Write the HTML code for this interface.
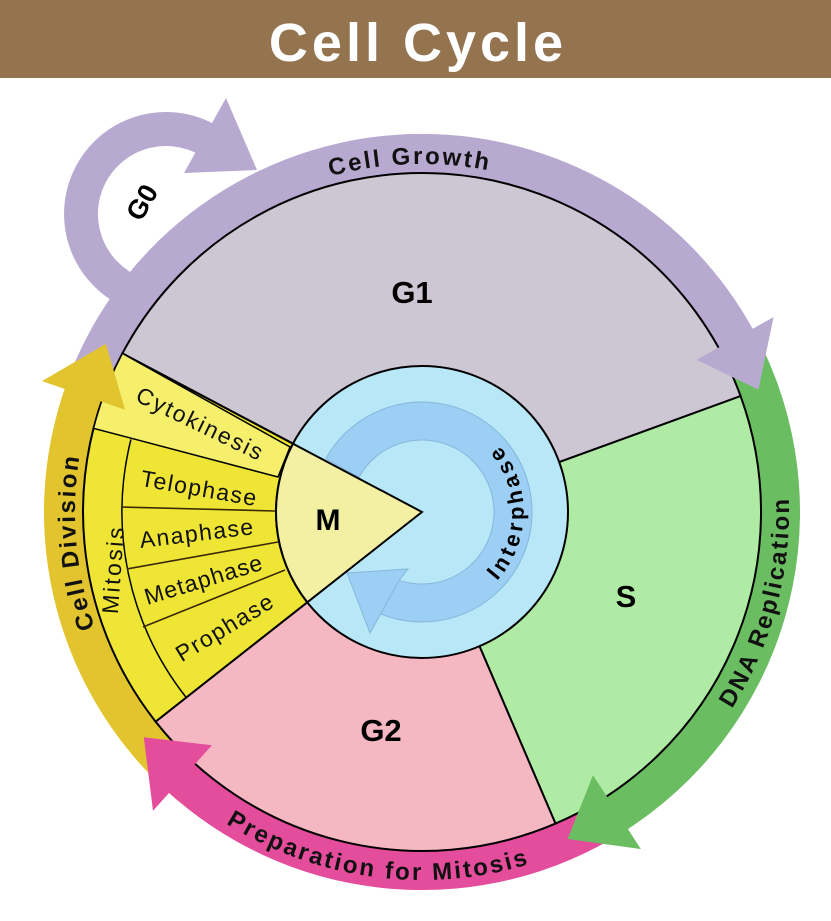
<!DOCTYPE html>
<html><head><meta charset="utf-8">
<style>
html,body{margin:0;padding:0;background:#fff;}
svg{display:block;}
text{font-family:"Liberation Sans",Arial,sans-serif;}
.ring{font-weight:bold;font-size:24px;letter-spacing:2.4px;fill:#111;}
.ph{font-size:23px;fill:#111;}
</style></head>
<body>
<svg width="831" height="921" viewBox="0 0 831 921" xmlns="http://www.w3.org/2000/svg">
<rect x="0" y="0" width="831" height="78" fill="#94734f"/>
<text x="418" y="61" text-anchor="middle" font-size="54" font-weight="bold" fill="#fff" letter-spacing="4">Cell Cycle</text>

<defs>
<path id="tpGrowth"/><path id="tpDiv"/><path id="tpDNA"/><path id="tpPrep"/><path id="tpInter"/>
</defs>

<path id="g0band" fill="#b8a9d0"/>
<path d="M226,98 L257,170 L184,173 Z" fill="#b8a9d0"/>
<path id="pband" fill="#b8a9d0"/>
<path id="yband" fill="#e2c52e"/>
<path id="gband" fill="#6abd60"/>
<path id="kband" fill="#e44c9c"/>

<path id="sG1" fill="#cdc6d3" stroke="#000" stroke-width="2"/>
<path id="sS" fill="#b0eba5" stroke="#000" stroke-width="2"/>
<path id="sG2" fill="#f5b8c3" stroke="#000" stroke-width="2"/>
<path id="sM" fill="#efe535" stroke="#000" stroke-width="2"/>
<path id="cyto" fill="#f5ef6c" stroke="#000" stroke-width="1.5"/>
<path id="mitArc" fill="none" stroke="#000" stroke-width="1.5"/>
<g stroke="#3a2a08" stroke-width="1.6">
<line x1="121" y1="507" x2="275" y2="511"/>
<line x1="127" y1="569" x2="278" y2="542"/>
<line x1="143" y1="627" x2="285" y2="570"/>
</g>

<circle cx="422" cy="512" r="146" fill="#b8e8f7" stroke="#000" stroke-width="2"/>
<path id="bband" fill="#9ccff3" stroke="#86b6dc" stroke-width="1"/>
<path d="M398,582 L408,569 L347,573 L370,633 L379,617 Z" fill="#9ccff3" stroke="#86b6dc" stroke-width="1"/>
<path id="mIn" fill="#f3f0a4" stroke="#000" stroke-width="2"/>

<path id="phead" fill="#b8a9d0"/>
<path id="ghead" fill="#6abd60"/>
<path id="khead" fill="#e44c9c"/>
<path id="yhead" fill="#e2c52e"/>

<text x="412" y="303" font-size="31" font-weight="bold" text-anchor="middle">G1</text>
<text x="626" y="607" font-size="31" font-weight="bold" text-anchor="middle">S</text>
<text x="381" y="741" font-size="31" font-weight="bold" text-anchor="middle">G2</text>
<text x="328" y="530" font-size="30" font-weight="bold" text-anchor="middle">M</text>
<text transform="translate(150,207) rotate(-60)" font-size="27" font-weight="bold" text-anchor="middle">G0</text>

<text class="ring"><textPath href="#tpGrowth" startOffset="50%" text-anchor="middle">Cell Growth</textPath></text>
<text class="ring"><textPath href="#tpDiv" startOffset="50%" text-anchor="middle">Cell Division</textPath></text>
<text class="ring"><textPath href="#tpDNA" startOffset="50%" text-anchor="middle">DNA Replication</textPath></text>
<text class="ring"><textPath href="#tpPrep" startOffset="50%" text-anchor="middle">Preparation for Mitosis</textPath></text>
<text font-weight="bold" font-size="22" letter-spacing="4"><textPath href="#tpInter" startOffset="50%" text-anchor="middle">Interphase</textPath></text>

<text class="ph" transform="translate(197,431) rotate(26)" text-anchor="middle" letter-spacing="2">Cytokinesis</text>
<text class="ph" transform="translate(198,496) rotate(10)" text-anchor="middle" letter-spacing="1.5">Telophase</text>
<text class="ph" transform="translate(198,541) rotate(-7)" text-anchor="middle" letter-spacing="1.5">Anaphase</text>
<text class="ph" transform="translate(206,587) rotate(-17)" text-anchor="middle" letter-spacing="1">Metaphase</text>
<text class="ph" transform="translate(229,634) rotate(-31)" text-anchor="middle" letter-spacing="1.5">Prophase</text>
<text class="ph" transform="translate(121,570) rotate(-86)" text-anchor="middle" letter-spacing="2.5">Mitosis</text>
</svg>
<script>
function P(cx,cy,r,a){a=a*Math.PI/180;return (cx+r*Math.cos(a)).toFixed(1)+','+(cy+r*Math.sin(a)).toFixed(1);}
function arcD(cx,cy,r,a0,a1){var s=a1>a0?1:0,l=Math.abs(a1-a0)>180?1:0;return 'M'+P(cx,cy,r,a0)+' A'+r+' '+r+' 0 '+l+' '+s+' '+P(cx,cy,r,a1);}
function band(cx,cy,r,w,a0,a1){var o=r+w/2,i=r-w/2,s=a1>a0?1:0,l=Math.abs(a1-a0)>180?1:0;
return 'M'+P(cx,cy,o,a0)+' A'+o+' '+o+' 0 '+l+' '+s+' '+P(cx,cy,o,a1)+' L'+P(cx,cy,i,a1)+' A'+i+' '+i+' 0 '+l+' '+(1-s)+' '+P(cx,cy,i,a0)+' Z';}
function head(cx,cy,r,a1,a2,hw){return 'M'+P(cx,cy,r+hw,a1)+' L'+P(cx,cy,r,a2)+' L'+P(cx,cy,r-hw,a1)+' Z';}
function sector(cx,cy,r,a0,a1){var l=Math.abs(a1-a0)>180?1:0,s=a1>a0?1:0;return 'M'+cx+','+cy+' L'+P(cx,cy,r,a0)+' A'+r+' '+r+' 0 '+l+' '+s+' '+P(cx,cy,r,a1)+' Z';}
function set(id,d){document.getElementById(id).setAttribute('d',d);}
var X=422,Y=512,R=358,W=40,HW=44;
set('g0band',band(166,214,85,34,110,314));
set('pband',band(X,Y,R,W,199,332));
set('yband',band(X,Y,R,W,130,200));
set('gband',band(X,Y,R,W,335,418));
set('kband',band(X,Y,R,W,60,133));
set('phead',head(X,Y,R,331,340,HW));
set('ghead',head(X,Y,R,417,426,HW));
set('khead',head(X,Y,R,132,141,HW));
set('yhead',head(X,Y,R,199,208,HW));
set('sG1',sector(X,Y,339,207.9,340));
set('sS',sector(X,Y,339,340,426.8));
set('sG2',sector(X,Y,339,66.8,141.8));
set('sM',sector(X,Y,339,141.8,207.9));
set('cyto','M'+P(X,Y,339,207.9)+' A339 339 0 0 0 '+P(X,Y,339,194.3)+' L278,477 L290,447 Z');
set('mitArc',arcD(X,Y,300,194,141.8));
set('mIn',sector(X,Y,146,141.8,207.9));
set('bband',band(X,Y,91,38,209,475));
set('tpGrowth',arcD(X,Y,348,218,318));
set('tpDiv',arcD(X,Y,347,125,225));
set('tpDNA',arcD(X,Y,367,70,-40));
set('tpPrep',arcD(X,Y,368,150,45));
set('tpInter',arcD(X,Y,102,100,-100));
</script>
</body></html>
